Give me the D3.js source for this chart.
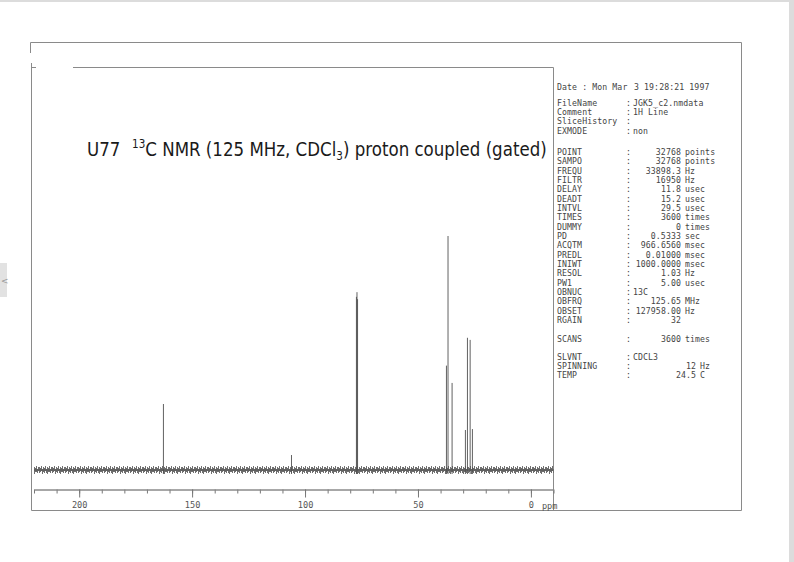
<!DOCTYPE html>
<html><head><meta charset="utf-8">
<script src="https://cdn.jsdelivr.net/npm/d3@7"></script>
<style>html,body{margin:0;padding:0;background:#fff;} svg{display:block}</style>
</head><body>
<svg id="c" width="794" height="562"></svg>
<script>
// ---- data ----
const peakPpm    = [162.7, 106.0, 77.25, 77.0, 76.75, 37.4, 36.7, 34.9, 29.0, 28.1, 26.9, 25.9];
const peakHeight = [28.2, 6.4, 74, 76, 73, 44.6, 100, 37.2, 17.1, 56.5, 55.6, 17.5];
const majorTickValues = [200, 150, 100, 50, 0];
const minorTickValues = [220, 210, 200, 190, 180, 170, 160, 150, 140, 130, 120, 110, 100, 90, 80, 70, 60, 50, 40, 30, 20, 10, 0, -10];
const dateLeft = "Date : Mon Mar", dateRight = "3 19:28:21 1997";
const headerLabels = ["FileName", "Comment", "SliceHistory", "EXMODE"];
const headerValues = ["JGK5_c2.nmdata", "1H Line", "", "non"];
const paramLabels = ["POINT","SAMPO","FREQU","FILTR","DELAY","DEADT","INTVL","TIMES","DUMMY","PD","ACQTM","PREDL","INIWT","RESOL","PW1","OBNUC","OBFRQ","OBSET","RGAIN"];
const paramValues = ["32768","32768","33898.3","16950","11.8","15.2","29.5","3600","0","0.5333","966.6560","0.01000","1000.0000","1.03","5.00","13C","125.65","127958.00","32"];
const paramUnits  = ["points","points","Hz","Hz","usec","usec","usec","times","times","sec","msec","msec","msec","Hz","usec","","MHz","Hz",""];
const scanLabels = ["SCANS"], scanValues = ["3600"], scanUnits = ["times"];
const envLabels = ["SLVNT", "SPINNING", "TEMP"];
const envValues = ["CDCL3", "12", "24.5"];
const envUnits  = ["", "Hz", "C"];

// ---- drawing ----
const svg = d3.select("#c");
const mono = "'DejaVu Sans Mono', 'Liberation Mono', monospace";

// page artifacts
svg.append("rect").attr("x",0).attr("y",0).attr("width",794).attr("height",2).attr("fill","#dcdcdc");
svg.append("rect").attr("x",789).attr("y",0).attr("width",5).attr("height",562).attr("fill","#dcdcdc");
svg.append("rect").attr("x",0).attr("y",263).attr("width",7).attr("height",34).attr("fill","#e2e2e2");
svg.append("text").attr("x",1).attr("y",284).attr("font-family","DejaVu Sans").attr("font-size",9).attr("fill","#999").text("<");

const frame = "#8a8a8a";
const fg = svg.append("g").attr("stroke", frame).attr("stroke-width", 1).attr("fill","none");
fg.append("path").attr("d","M30.5,53V42.5H741.5V510.5H31.5V63");
fg.append("path").attr("d","M31.5,67.5H36 M73,67.5H553.5 M553.5,67.5V510.5");

// scales
const x = d3.scaleLinear().domain([220, -10]).range([34, 553.5]);
const y = d3.scaleLinear().domain([0, 100]).range([470, 236]);

// noise band via pattern
const defs = svg.append("defs");
const pat = defs.append("pattern").attr("id","noise").attr("patternUnits","userSpaceOnUse")
  .attr("width",13).attr("height",10).attr("y", y(0)-5);
pat.append("path")
  .attr("d","M0.5,2V8M1.5,3V7M2.5,1V6M3.5,4V9M4.5,2V7M5.5,3V8M6.5,1V6M7.5,4V8M8.5,2V9M9.5,3V7M10.5,1V7M11.5,4V8M12.5,2V6M0,5H13")
  .attr("stroke","#4a4a4a").attr("stroke-width",0.8);
svg.append("rect").attr("x", x(220)).attr("y", y(0)-5).attr("width", x(-10)-x(220)).attr("height",10)
  .attr("fill","url(#noise)");

// peaks
svg.append("g").selectAll("line").data(peakPpm).join("line")
  .attr("x1", d => x(d)).attr("x2", d => x(d))
  .attr("y1", y(0)+4).attr("y2", (d,i) => y(peakHeight[i]))
  .attr("stroke", "#505050").attr("stroke-width", 0.9);

// axes
const axisY = 489.5;
const minorAxis = d3.axisBottom(x).tickValues(minorTickValues).tickSize(4).tickSizeOuter(0).tickFormat("");
const majorAxis = d3.axisBottom(x).tickValues(majorTickValues).tickSize(8).tickSizeOuter(0).tickPadding(4).tickFormat(d3.format("d"));
const gMin = svg.append("g").attr("transform",`translate(0,${axisY})`).call(minorAxis);
const gMaj = svg.append("g").attr("transform",`translate(0,${axisY})`).call(majorAxis);
[gMin, gMaj].forEach(g => {
  g.selectAll("path.domain").attr("stroke", frame);
  g.selectAll(".tick line").attr("stroke", "#777");
  g.selectAll(".tick text").attr("font-family", mono).attr("font-size", 8.6).attr("fill","#555");
});
gMaj.append("text").attr("x", x(-8.3)).attr("y", 19).attr("font-family", mono).attr("font-size", 8.6)
  .attr("fill","#555").attr("text-anchor","middle").text("ppm");

// title
const title = svg.append("text").attr("x", 0).attr("y", 0)
  .attr("font-family","'DejaVu Sans', Verdana, sans-serif").attr("font-size", 20).attr("fill","#1a1a1a");
title.append("tspan").text("U77");
title.append("tspan").attr("font-size", 12.5).attr("dx", 14).attr("dy", -8).text("13");
title.append("tspan").attr("dy", 8).text("C NMR (125 MHz, CDCl");
title.append("tspan").attr("font-size", 12.5).attr("dy", 4).text("3");
title.append("tspan").attr("dy", -4).text(") proton coupled (gated)");
const tw = title.node().getBBox().width;
title.attr("transform", `translate(87,156) scale(${460/tw},1)`);

// parameter panel
const panel = svg.append("g").attr("font-family", mono).attr("font-size", 8.2)
  .attr("letter-spacing", 0.1).attr("fill", "#444");
const labX = 557, colX = 626, valX = 633, rightX = 681;
function row(yc, label, value, unit, rx) {
  const yb = yc + 3;
  panel.append("text").attr("x", labX).attr("y", yb).text(label);
  panel.append("text").attr("x", colX).attr("y", yb).text(":");
  if (value === "") return;
  if (isNaN(+value)) {
    panel.append("text").attr("x", valX).attr("y", yb).text(value);
  } else {
    panel.append("text").attr("x", rx).attr("y", yb).attr("text-anchor","end").text(value);
    if (unit) panel.append("text").attr("x", rx + 4).attr("y", yb).text(unit);
  }
}
panel.append("text").attr("x", labX).attr("y", 90).text(dateLeft);
panel.append("text").attr("x", valX + 1).attr("y", 90).text(dateRight);
headerLabels.forEach((l,i) => row(103 + i*9.2, l, headerValues[i], "", rightX));
paramLabels.forEach((l,i) => row(152 + i*9.33, l, paramValues[i], paramUnits[i], rightX));
scanLabels.forEach((l,i) => row(339, l, scanValues[i], scanUnits[i], rightX));
envLabels.forEach((l,i) => row(357 + i*9.2, l, envValues[i], envUnits[i], 696));
</script>
</body></html>
